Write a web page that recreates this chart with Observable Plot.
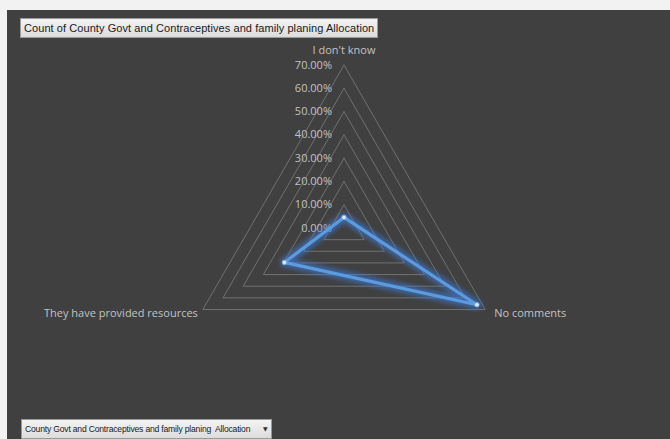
<!DOCTYPE html>
<html>
<head>
<meta charset="utf-8">
<script src="https://cdn.jsdelivr.net/npm/d3@7"></script>
<script src="https://cdn.jsdelivr.net/npm/@observablehq/plot@0.6"></script>
<style>
  html, body { margin: 0; padding: 0; width: 670px; height: 439px; overflow: hidden; background: #f2f2f2; }
  #panel { position: absolute; left: 7px; top: 10px; width: 663px; height: 429px; background: #404040; }
  #chart { position: absolute; left: 0; top: 0; }
  .btn {
    position: absolute; box-sizing: border-box; height: 20px;
    font-family: "Liberation Sans", sans-serif; color: #1a1a1a;
    background: linear-gradient(#f4f4f4, #dcdcdc); border: 1px solid #9a9a9a;
    line-height: 18px; padding: 0 3px; white-space: nowrap; overflow: visible;
  }
  #title { left: 20px; top: 18px; width: 358px; font-size: 11px; letter-spacing: 0.07px; }
  #field { left: 21px; top: 419px; width: 251px; font-size: 8.6px; letter-spacing: -0.2px; }
  #field .arrow { font-family: "DejaVu Sans", sans-serif; font-size: 6px; position: absolute; left: 241px; top: 0; color: #333; }
</style>
</head>
<body>
<div id="panel"></div>
<div id="chart"></div>
<div id="title" class="btn">Count of County Govt and Contraceptives and family planing Allocation</div>
<div id="field" class="btn">County Govt and Contraceptives and family planing&nbsp; Allocation<span class="arrow">▼</span></div>
<script>
// Categories, clockwise from the top spoke
const categories = ["I don't know", "No comments", "They have provided resources"];
// Share of responses per category
const shares = [0.0455, 0.6591, 0.2955];
// Radial gridline levels and their tick labels
const levels = [0, 0.1, 0.2, 0.3, 0.4, 0.5, 0.6, 0.7];
const tickLabels = ["0.00%", "10.00%", "20.00%", "30.00%", "40.00%", "50.00%", "60.00%", "70.00%"];

// Spoke angles (degrees, counter-clockwise from east): top, lower right, lower left
const angles = [90, -30, 210];
const polar = (r, i) => ({
  x: r * Math.cos(angles[i] * Math.PI / 180),
  y: r * Math.sin(angles[i] * Math.PI / 180)
});

// Closed triangles for each grid level
const grid = levels.slice(1).flatMap(level =>
  [0, 1, 2, 0].map(i => ({level, ...polar(level, i)}))
);
// Closed data polygon
const series = [0, 1, 2, 0].map(i => ({category: categories[i], value: shares[i], ...polar(shares[i], i)}));
const points = categories.map((c, i) => ({category: c, value: shares[i], ...polar(shares[i], i)}));
const ticks = levels.map((l, i) => ({x: 0, y: l, label: tickLabels[i]}));
const labelTop = [{x: 0, y: 0.7, text: categories[0]}];
const labelRight = [{...polar(0.7, 1), text: categories[1]}];
const labelLeft = [{...polar(0.7, 2), text: categories[2]}];

const cx = 343.5, cy = 227.5, unit = 163 / 0.7;
const font = "'Open Sans', sans-serif";
const textColor = "#c2c2c2";

const chart = Plot.plot({
  width: 670,
  height: 439,
  margin: 0,
  style: {background: "transparent", fontFamily: font, fontSize: "11px"},
  x: {domain: [-1, 1], range: [cx - unit, cx + unit], axis: null},
  y: {domain: [-1, 1], range: [cy + unit, cy - unit], axis: null},
  marks: [
    Plot.line(grid, {x: "x", y: "y", z: "level", stroke: "#707070", strokeWidth: 1}),
    Plot.text(ticks, {x: "x", y: "y", text: "label", textAnchor: "end", dx: -12, fill: textColor}),
    Plot.text(labelTop, {x: "x", y: "y", text: "text", dy: -15, fill: textColor}),
    Plot.text(labelRight, {x: "x", y: "y", text: "text", textAnchor: "start", dx: 9, dy: 4, fill: textColor}),
    Plot.text(labelLeft, {x: "x", y: "y", text: "text", textAnchor: "end", dx: -5, dy: 4, fill: textColor}),
    // halo drawn under the series line
    Plot.line(series, {x: "x", y: "y", stroke: "#3a7ee0", strokeWidth: 9, strokeOpacity: 0.6}),
    Plot.line(series, {x: "x", y: "y", stroke: "#5b9be0", strokeWidth: 3.2}),
    Plot.dot(points, {x: "x", y: "y", r: 2.3, fill: "#dfe9f7", stroke: "#6fa6e6", strokeWidth: 1})
  ]
});

// Blur the halo line so it reads as a soft glow
const svg = d3.select(chart);
svg.insert("defs", ":first-child").html(
  '<filter id="halo" x="-20%" y="-20%" width="140%" height="140%"><feGaussianBlur stdDeviation="2.5"/></filter>'
);
const lineGroups = svg.selectAll('g[aria-label="line"]').nodes();
// groups: [grid, halo, series]
if (lineGroups.length >= 3) d3.select(lineGroups[1]).attr("filter", "url(#halo)");

document.getElementById("chart").appendChild(chart);
</script>
</body>
</html>
